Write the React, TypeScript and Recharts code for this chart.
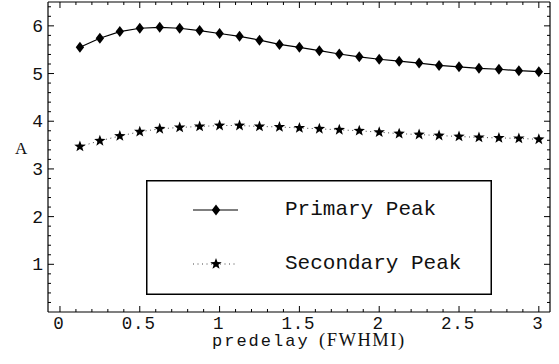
import React from 'react';
import { ComposedChart, Line, XAxis, YAxis, Legend } from 'recharts';

const predelay = [0.125, 0.25, 0.375, 0.5, 0.625, 0.75, 0.875, 1, 1.125, 1.25, 1.375, 1.5, 1.625, 1.75, 1.875, 2, 2.125, 2.25, 2.375, 2.5, 2.625, 2.75, 2.875, 3];
const primaryPeak = [5.55, 5.74, 5.88, 5.95, 5.97, 5.95, 5.9, 5.84, 5.78, 5.7, 5.61, 5.55, 5.48, 5.41, 5.35, 5.3, 5.26, 5.22, 5.17, 5.14, 5.11, 5.09, 5.06, 5.04];
const secondaryPeak = [3.47, 3.59, 3.69, 3.78, 3.84, 3.87, 3.89, 3.91, 3.91, 3.89, 3.88, 3.86, 3.84, 3.82, 3.8, 3.77, 3.74, 3.72, 3.7, 3.68, 3.66, 3.65, 3.64, 3.62];

const xTicks = [0, 0.1, 0.2, 0.3, 0.4, 0.5, 0.6, 0.7, 0.8, 0.9, 1, 1.1, 1.2, 1.3, 1.4, 1.5, 1.6, 1.7, 1.8, 1.9, 2, 2.1, 2.2, 2.3, 2.4, 2.5, 2.6, 2.7, 2.8, 2.9, 3];
const xLabels = ['0', '0.5', '1', '1.5', '2', '2.5', '3'];
const yTicks = [0.2, 0.4, 0.6, 0.8, 1, 1.2, 1.4, 1.6, 1.8, 2, 2.2, 2.4, 2.6, 2.8, 3, 3.2, 3.4, 3.6, 3.8, 4, 4.2, 4.4, 4.6, 4.8, 5, 5.2, 5.4, 5.6, 5.8, 6, 6.2, 6.4];
const yLabels = ['1', '2', '3', '4', '5', '6'];

const seriesNames = { primary: 'Primary Peak', secondary: 'Secondary Peak' };
const xTitle = 'predelay';
const xTitleUnit = '(FWHMI)';
const yTitle = 'A';

const data = predelay.map((x, i) => ({ x, primary: primaryPeak[i], secondary: secondaryPeak[i] }));

const MONO = '"Liberation Mono", "Courier New", monospace';
const SERIF = '"Liberation Serif", "Times New Roman", serif';

const fmt = (v: number) => String(Math.round(v * 1000) / 1000);

const BottomTick = (props: any) => {
  const { x, payload } = props;
  const y = 312;
  const label = fmt(payload.value);
  const major = xLabels.includes(label);
  return (
    <g>
      <line x1={x} x2={x} y1={y} y2={y - (major ? 6 : 3)} stroke="#000" strokeWidth={1} />
      {major && (
        <text x={x - 1} y={y + 17} textAnchor="middle" fontFamily={MONO} fontSize={17.5} letterSpacing={0.8} fill="#111">
          {label}
        </text>
      )}
    </g>
  );
};

const TopTick = (props: any) => {
  const { x, payload } = props;
  const y = 2;
  const major = xLabels.includes(fmt(payload.value));
  return <line x1={x} x2={x} y1={y} y2={y + (major ? 6 : 3)} stroke="#000" strokeWidth={1} />;
};

const LeftTick = (props: any) => {
  const { y, payload } = props;
  const x = 48;
  const label = fmt(payload.value);
  const major = yLabels.includes(label);
  return (
    <g>
      <line x1={x} x2={x + (major ? 6 : 3)} y1={y} y2={y} stroke="#000" strokeWidth={1} />
      {major && (
        <text x={x - 5} y={y + 6} textAnchor="end" fontFamily={MONO} fontSize={18} fill="#111">
          {label}
        </text>
      )}
    </g>
  );
};

const RightTick = (props: any) => {
  const { y, payload } = props;
  const x = 550;
  const major = yLabels.includes(fmt(payload.value));
  return <line x1={x} x2={x - (major ? 6 : 3)} y1={y} y2={y} stroke="#000" strokeWidth={1} />;
};

const diamondPath = (cx: number, cy: number) =>
  `M${cx},${cy - 5.5}L${cx + 4.2},${cy}L${cx},${cy + 5.5}L${cx - 4.2},${cy}Z`;

const starPath = (cx: number, cy: number) => {
  const pts: string[] = [];
  for (let i = 0; i < 10; i++) {
    const r = i % 2 === 0 ? 6 : 2.5;
    const a = -Math.PI / 2 + (i * Math.PI) / 5;
    pts.push(`${(cx + r * Math.cos(a)).toFixed(2)},${(cy + r * Math.sin(a)).toFixed(2)}`);
  }
  return `M${pts.join('L')}Z`;
};

const DiamondDot = (props: any) => {
  const { cx, cy, index } = props;
  if (cx == null || cy == null) return <g key={`d${index}`} />;
  return <path key={`d${index}`} d={diamondPath(cx, cy)} fill="#000" />;
};

const StarDot = (props: any) => {
  const { cx, cy, index } = props;
  if (cx == null || cy == null) return <g key={`s${index}`} />;
  return <path key={`s${index}`} d={starPath(cx, cy)} fill="#000" />;
};

const LegendBox = (props: any) => {
  const payload = props.payload || [];
  const rowY = [30, 84];
  return (
    <svg width={346} height={115} style={{ display: 'block' }}>
      <rect x={0.75} y={0.75} width={344.5} height={113.5} fill="#fff" stroke="#000" strokeWidth={1.5} />
      {payload.map((item: any, i: number) => {
        const y = rowY[i] ?? 30 + i * 54;
        const isPrimary = item.dataKey === 'primary';
        return (
          <g key={item.value}>
            {isPrimary ? (
              <line x1={47} x2={92} y1={y} y2={y} stroke="#000" strokeWidth={1.2} />
            ) : (
              <line x1={47} x2={92} y1={y} y2={y} stroke="#444" strokeWidth={1} strokeDasharray="1 3.5" />
            )}
            <path d={isPrimary ? diamondPath(70, y) : starPath(70, y)} fill="#000" />
            <text x={139} y={y + 5} fontFamily={MONO} fontSize={21} fill="#111">
              {item.value}
            </text>
          </g>
        );
      })}
    </svg>
  );
};

const XTitle = () => (
  <text y={346} fill="#111">
    <tspan x={212} fontFamily={MONO} fontSize={17} letterSpacing={2}>
      {xTitle}
    </tspan>
    <tspan x={319} fontFamily={SERIF} fontSize={18.5} letterSpacing={1.5}>
      {xTitleUnit}
    </tspan>
  </text>
);

const YTitle = () => (
  <text x={15} y={154} fontFamily={SERIF} fontSize={17} fill="#111">
    {yTitle}
  </text>
);

const axisLineStyle = { stroke: '#000', strokeWidth: 1.2 };

export default function App() {
  return (
    <div style={{ position: 'absolute', left: 0, top: 0, width: 559, height: 364, background: '#fff' }}>
      <ComposedChart width={559} height={364} data={data} margin={{ top: 0, right: 7, bottom: 50, left: 46 }}>
        <XAxis
          xAxisId="bottom"
          dataKey="x"
          type="number"
          domain={[-0.075, 3.07]}
          allowDataOverflow
          ticks={xTicks}
          interval={0}
          height={2}
          tickSize={0}
          tickMargin={0}
          tickLine={false}
          tick={BottomTick}
          axisLine={axisLineStyle}
          label={{ content: XTitle }}
        />
        <XAxis
          xAxisId="top"
          orientation="top"
          dataKey="x"
          type="number"
          domain={[-0.075, 3.07]}
          allowDataOverflow
          ticks={xTicks}
          interval={0}
          height={2}
          tickSize={0}
          tickMargin={0}
          tickLine={false}
          tick={TopTick}
          axisLine={axisLineStyle}
        />
        <YAxis
          yAxisId="left"
          type="number"
          domain={[0, 6.5]}
          allowDataOverflow
          ticks={yTicks}
          interval={0}
          width={2}
          tickSize={0}
          tickMargin={0}
          tickLine={false}
          tick={LeftTick}
          axisLine={axisLineStyle}
          label={{ content: YTitle }}
        />
        <YAxis
          yAxisId="right"
          orientation="right"
          type="number"
          domain={[0, 6.5]}
          allowDataOverflow
          ticks={yTicks}
          interval={0}
          width={2}
          tickSize={0}
          tickMargin={0}
          tickLine={false}
          tick={RightTick}
          axisLine={axisLineStyle}
        />
        <Legend
          layout="horizontal"
          verticalAlign="middle"
          align="center"
          content={LegendBox}
          wrapperStyle={{ position: 'absolute', left: 146, top: 180, width: 346, height: 115 }}
        />
        <Line
          xAxisId="bottom"
          yAxisId="left"
          dataKey="primary"
          name={seriesNames.primary}
          stroke="#000"
          strokeWidth={1.2}
          dot={DiamondDot}
          activeDot={false}
          isAnimationActive={false}
        />
        <Line
          xAxisId="bottom"
          yAxisId="left"
          dataKey="secondary"
          name={seriesNames.secondary}
          stroke="#444"
          strokeWidth={1}
          strokeDasharray="1 3.5"
          dot={StarDot}
          activeDot={false}
          isAnimationActive={false}
        />
      </ComposedChart>
    </div>
  );
}
